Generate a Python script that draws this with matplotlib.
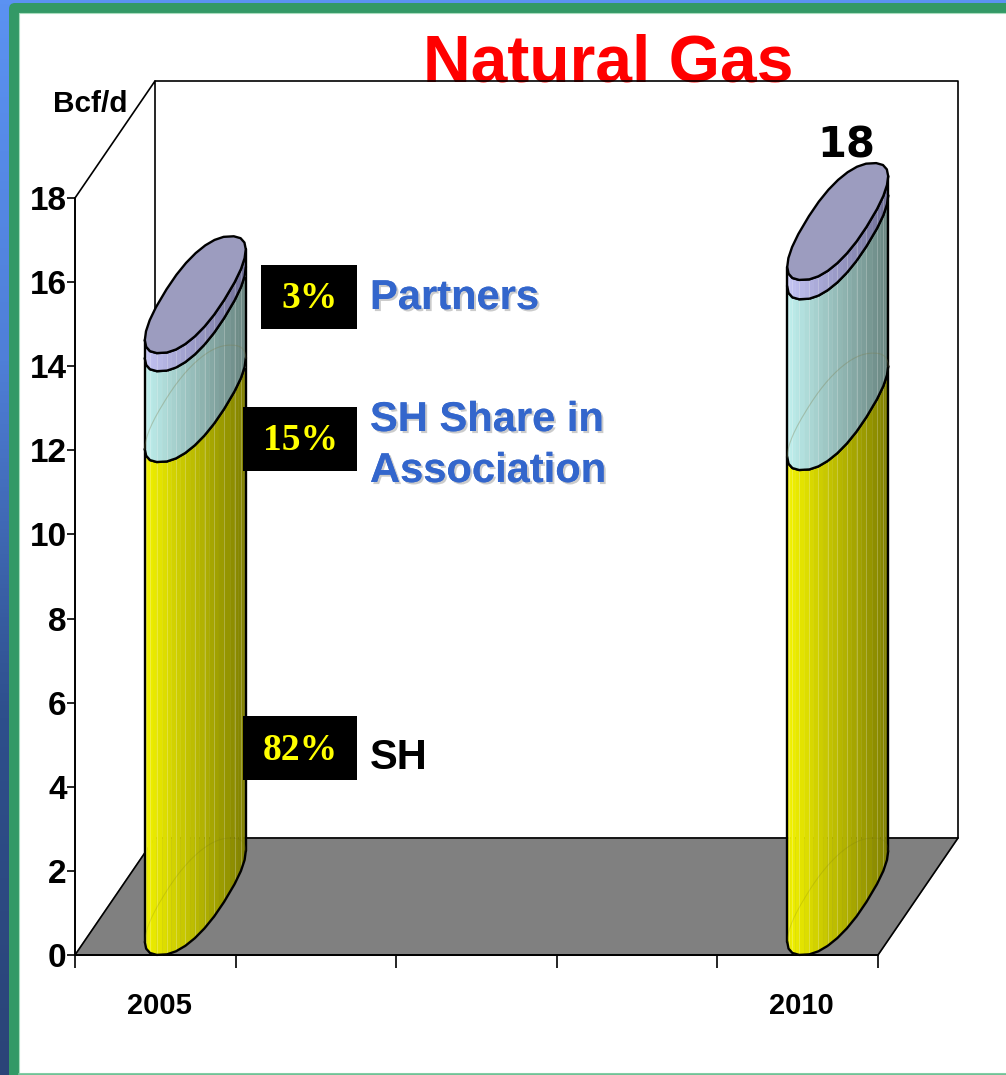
import numpy as np
import matplotlib
matplotlib.use('Agg')
import matplotlib.pyplot as plt
import matplotlib.patheffects as pe
from matplotlib.colors import LinearSegmentedColormap, to_rgb
from matplotlib.patches import FancyBboxPatch, Rectangle
from matplotlib.transforms import ScaledTranslation

# data
years = ['2005', '2010']
year_pos = [0.5, 4.5]
sh = [11.72, 11.53]
sh_assoc = [2.16, 4.06]
partners = [0.43, 0.46]
yticks = list(range(0, 19, 2))
xticks = list(range(0, 6))
pct_labels = ['3%', '15%', '82%']
total_label = '18'

W, H = 1006, 1075
plt.rcParams['font.family'] = ['Liberation Sans', 'DejaVu Sans']
fig = plt.figure(figsize=(W / 100, H / 100), dpi=100, facecolor='white')

###############################################################################
# Slide background (pixel coordinates)
bg = fig.add_axes((0, 0, 1, 1), zorder=0)
bg.axis('off')
blue = LinearSegmentedColormap.from_list('blue', ['#5B92F2', '#4F7FD8', '#2E4F8C', '#2B4478'])
bg.imshow(np.linspace(0, 1, 256).reshape(-1, 1), cmap=blue, extent=(0, W, H, 0), aspect='auto', zorder=0)
bg.set_xlim(0, W)
bg.set_ylim(H, 0)
bg.add_patch(FancyBboxPatch((14, 8), W + 40, H + 40, boxstyle='round,pad=5,rounding_size=6',
                            fc='#339966', ec='none', zorder=1))
bg.add_patch(Rectangle((19, 13), W, H - 15, fc='white', ec='#A8DDBE', lw=0.8, zorder=2))
bg.plot([19, W], [1073.5, 1073.5], color='#7CC9A0', lw=1.2, zorder=3)
bg.text(608, 82, 'Natural Gas', color='#FF0000', fontsize=47.5, fontweight='bold',
        ha='center', va='baseline', zorder=4)

###############################################################################
# Chart axes: front plane of the 3D box
L, R, B, T = 75, 878, 955, 198
ax = fig.add_axes((L / W, (H - B) / H, (R - L) / W, (B - T) / H), zorder=1)
ax.patch.set_alpha(0)
ax.set_xlim(0, 5)
ax.set_ylim(0, 18)
for s in ['top', 'right']:
    ax.spines[s].set_visible(False)
for s in ['left', 'bottom']:
    ax.spines[s].set_linewidth(1.4)

ax.set_yticks(yticks)
ax.set_xticks(xticks)
ax.set_xticklabels([])
ax.set_xticks(year_pos, minor=True)
ax.set_xticklabels(years, minor=True)
ax.tick_params(axis='y', length=6, width=1.2, pad=0, labelsize=24)
ax.tick_params(axis='x', which='major', length=9, width=1.2)
ax.tick_params(axis='x', which='minor', length=0, pad=27, labelsize=21)
for lab in ax.get_yticklabels() + ax.get_xminorticklabels():
    lab.set_fontweight('bold')
for lab in ax.get_xminorticklabels():
    lab.set_transform(lab.get_transform() + ScaledTranslation(3 / 72, 0, fig.dpi_scale_trans))

# depth of the box, in data units
dx = 80 / (R - L) * 5
dy = 117 / (B - T) * 18
line = dict(color='black', lw=1.7, clip_on=False, solid_capstyle='round', solid_joinstyle='round')
thin = dict(color='black', lw=1.2, clip_on=False, solid_capstyle='round')
ax.fill([0, 5, 5 + dx, dx], [0, 0, dy, dy], color='#808080', clip_on=False, zorder=1)
ax.plot([0, dx, dx], [18, 18 + dy, dy], **thin, zorder=2)
ax.plot([dx, 5 + dx, 5 + dx, 5, 0, dx], [18 + dy, 18 + dy, dy, 0, 0, dy], **thin, zorder=2)
ax.plot([dx, 5 + dx], [dy, dy], **thin, zorder=2)

###############################################################################
# Cylinders, with the same coarse polygon look as the original
hw = 32.1 / (R - L) * 5  # half bar width along the x axis
skew = 35.6 / (R - L) * 5  # sideways shift of the rim over the depth
rim_p = 0.85  # below 1 gives the slightly squared rim of the original
n_facets = 28
th_r = np.arctan2(skew, hw)
th_l = th_r + np.pi
front = np.linspace(th_l, th_r + 2 * np.pi, n_facets + 1)
full = np.linspace(th_r, th_r + 2 * np.pi, n_facets + 1)


def ring(x0, y0, th):
    cx = x0 + dx / 2
    u = np.sign(np.cos(th)) * np.abs(np.cos(th)) ** rim_p
    v = np.sign(np.sin(th)) * np.abs(np.sin(th)) ** rim_p
    return cx + hw * u + skew * v, y0 + dy / 2 + dy / 2 * v


def mix(c1, c2, f):
    return tuple((1 - f) * np.array(to_rgb(c1)) + f * np.array(to_rgb(c2)))


def body(x0, y0, y1, light, dark, z):
    xs, ys = ring(x0, 0, front)
    xmin, xmax = xs.min(), xs.max()
    for i in range(n_facets):
        f = ((xs[i] + xs[i + 1]) / 2 - xmin) / (xmax - xmin)
        col = mix(light, dark, f)
        ax.fill([xs[i], xs[i + 1], xs[i + 1], xs[i]],
                [y0 + ys[i], y0 + ys[i + 1], y1 + ys[i + 1], y1 + ys[i]],
                fc=col, ec=col, lw=0.3, clip_on=False, zorder=z)
        if i % 2 == 0 and i > 0:
            ax.plot([xs[i], xs[i]], [y0 + ys[i], y1 + ys[i]], color=mix(col, 'white', 0.25),
                    lw=0.7, clip_on=False, zorder=z + 1)
    for i in [0, n_facets]:
        ax.plot([xs[i], xs[i]], [y0 + ys[i], y1 + ys[i]], **line, zorder=z + 2)
    ax.plot(xs[::2], y0 + ys[::2], **line, zorder=z + 2)
    ax.plot(xs[::2], y1 + ys[::2], **line, zorder=z + 2)


for x0, a, b, c in zip(year_pos, sh, sh_assoc, partners):
    y1, y2, y3 = a, a + b, a + b + c
    body(x0, 0, y1, '#F4F400', '#7F7F00', 3)
    body(x0, y1, y2, '#BFF0EE', '#68847F', 6)
    body(x0, y2, y3, '#C4C4F4', '#6E6E96', 9)
    # faint back edges that show through the shell
    back = np.linspace(th_r, th_l, 30)
    xb, yb = ring(x0, y1, back)
    ax.plot(xb, yb, color='#7C7F50', lw=0.8, alpha=0.35, clip_on=False, zorder=8)
    xb, yb = ring(x0, 0, back)
    ax.plot(xb, yb, color='#70700F', lw=0.7, alpha=0.2, clip_on=False, zorder=5)
    xt, yt = ring(x0, y3, full)
    ax.fill(xt, yt, fc='#9C9CBF', ec='black', lw=1.7, joinstyle='round', clip_on=False, zorder=12)

###############################################################################
# Call-outs drawn on top (pixel coordinates)
top = fig.add_axes((0, 0, 1, 1), zorder=2)
top.set_xlim(0, W)
top.set_ylim(H, 0)
top.axis('off')
boxes = [(261, 265, 96, 64), (243, 407, 114, 64), (243, 716, 114, 64)]
for (x, y, w, h), txt in zip(boxes, pct_labels):
    top.add_patch(Rectangle((x, y), w, h, fc='black', ec='none'))
    top.text(338, y + h / 2 + 2, txt, color='#FFFF00', family='Liberation Serif', fontsize=27,
             fontweight='bold', ha='right', va='center')

shadow = [pe.withSimplePatchShadow(offset=(1.5, -1.5), shadow_rgbFace='#999999', alpha=0.5), pe.Normal()]
for x, y, txt, col in [(370, 309, 'Partners', '#3366CC'), (370, 431, 'SH Share in', '#3366CC'),
                       (370, 482, 'Association', '#3366CC')]:
    top.text(x, y, txt, color=col, fontsize=30, fontweight='bold', ha='left', va='baseline',
             path_effects=shadow)
top.text(370, 769, 'SH', color='black', fontsize=30, fontweight='bold', ha='left', va='baseline')
top.text(846, 157, total_label, color='black', family='DejaVu Sans', fontsize=30, fontweight='bold',
         ha='center', va='baseline')
top.text(90, 112, 'Bcf/d', color='black', fontsize=21.5, fontweight='bold', ha='center', va='baseline')

fig.savefig('out.png', dpi=100)
